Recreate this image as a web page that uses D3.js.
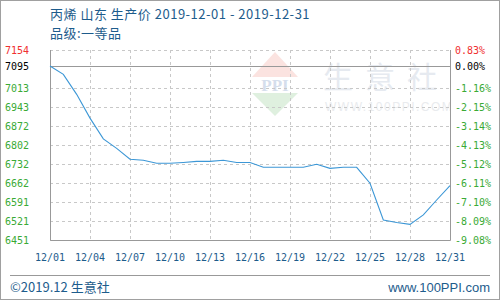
<!DOCTYPE html>
<html><head><meta charset="utf-8">
<script src="https://cdn.jsdelivr.net/npm/d3@7"></script>
<style>body{margin:0;background:#fff}svg{display:block}</style>
</head><body><svg id="c" width="500" height="300"></svg>
<script>
const dates = ["12/01","12/02","12/03","12/04","12/05","12/06","12/07","12/08","12/09","12/10","12/11","12/12","12/13","12/14","12/15","12/16","12/17","12/18","12/19","12/20","12/21","12/22","12/23","12/24","12/25","12/26","12/27","12/28","12/29","12/30","12/31"];
const prices = [7095,7064,6990,6902,6825,6790,6750,6746,6735,6735,6738,6742,6742,6746,6738,6738,6720,6720,6720,6720,6731,6716,6720,6720,6661,6525,6516,6509,6544,6599,6652];
const xTickLabels = ["12/01","12/04","12/07","12/10","12/13","12/16","12/19","12/22","12/25","12/28","12/31"];
const leftTicks = [7154,7095,7013,6943,6872,6802,6732,6662,6591,6521,6451];
const rightTicks = ["0.83%","0.00%","-1.16%","-2.15%","-3.14%","-4.13%","-5.12%","-6.11%","-7.10%","-8.09%","-9.08%"];
const baseValue = 7095;
const title1 = "丙烯 山东 生产价 2019-12-01 - 2019-12-31";
const title2 = "品级:一等品";

const svg = d3.select("#c");
const L=50,R=450,T=50,B=240;
const x = d3.scalePoint().domain(dates).range([L,R]);
const y = d3.scaleLinear().domain([6451,7154]).range([B,T]);
const blue = "#1d5c8c";

svg.append("rect").attr("x",0.5).attr("y",0.5).attr("width",499).attr("height",299).attr("fill","#fff").attr("stroke","#a0a0a0");
svg.append("defs").append("clipPath").attr("id","pc").append("rect").attr("x",L).attr("y",T).attr("width",R-L).attr("height",B-T);

// watermark
const wm = svg.append("g").attr("clip-path","url(#pc)");
wm.append("path").attr("d","M275,52 L298,77 L252,77 Z").attr("fill","#fbe3e0");
wm.append("path").attr("d","M252,93 L298,93 L275,116 Z").attr("fill","#dff0df");
wm.append("text").attr("x",275).attr("y",91).attr("text-anchor","middle").attr("font-family","Liberation Serif").attr("font-weight","bold").attr("font-size",17).attr("fill","#d5deec").text("PPI");
wm.append("text").attr("x",323).attr("y",88).attr("font-family","Noto Sans CJK SC").attr("font-size",30).attr("letter-spacing",12).attr("fill","#e6eaf0").text("生意社");
wm.append("text").attr("x",325).attr("y",111).attr("font-family","Liberation Sans").attr("font-size",12).attr("letter-spacing",1.5).attr("fill","#e9ebee").text("WWW.100PPI.COM");

// grid
const g = svg.append("g");
leftTicks.forEach((v,i)=>{
  if(i===1) return;
  g.append("line").attr("x1",L).attr("x2",R).attr("y1",Math.round(y(v))+0.5).attr("y2",Math.round(y(v))+0.5)
   .attr("stroke","#c8c8c8").attr("stroke-dasharray","3,3");
});
xTickLabels.forEach(d=>{
  g.append("line").attr("x1",Math.round(x(d))+0.5).attr("x2",Math.round(x(d))+0.5).attr("y1",T).attr("y2",B)
   .attr("stroke","#c8c8c8").attr("stroke-dasharray","3,3");
});
g.append("line").attr("x1",L).attr("x2",R).attr("y1",Math.round(y(baseValue))+0.5).attr("y2",Math.round(y(baseValue))+0.5).attr("stroke","#999");
// frame
g.append("path").attr("d",`M${L+0.5},${T} V${B+0.5} H${R+0.5} V${T}`).attr("fill","none").attr("stroke","#999");

// line
svg.append("path").datum(prices).attr("fill","none").attr("stroke","#3c97d6").attr("stroke-width",1.1)
  .attr("d",d3.line().x((d,i)=>x(dates[i])).y(d=>y(d)));

// axis labels
const mono = "DejaVu Sans Mono";
leftTicks.forEach((v,i)=>{
  svg.append("text").attr("x",5).attr("y",y(v)+4).attr("font-family",mono).attr("font-size",10)
    .attr("fill", i===0?"#f03030":(i===1?"#000":"#3aaa35")).text(v);
});
rightTicks.forEach((t,i)=>{
  svg.append("text").attr("x",455).attr("y",y(leftTicks[i])+4).attr("font-family",mono).attr("font-size",10)
    .attr("fill", i===0?"#f03030":(i===1?"#000":"#3aaa35")).text(t);
});
xTickLabels.forEach(d=>{
  svg.append("text").attr("x",x(d)).attr("y",261).attr("text-anchor","middle").attr("font-family",mono).attr("font-size",10)
    .attr("fill",blue).text(d);
});

// titles
svg.append("text").attr("x",50).attr("y",19).attr("font-family","Noto Sans CJK SC").attr("font-size",13).attr("letter-spacing",0.5).attr("fill",blue).text(title1);
svg.append("text").attr("x",50).attr("y",38).attr("font-family","Noto Sans CJK SC").attr("font-size",13).attr("letter-spacing",0.5).attr("fill",blue).text(title2);

// footer
svg.append("line").attr("x1",10).attr("x2",490).attr("y1",275.5).attr("y2",275.5).attr("stroke","#999");
svg.append("text").attr("x",10).attr("y",292).attr("font-family","Noto Sans CJK SC").attr("font-size",13).attr("fill",blue).text("©2019.12 生意社");
svg.append("text").attr("x",490).attr("y",292).attr("text-anchor","end").attr("font-family","Liberation Sans").attr("font-size",13).attr("fill",blue).text("www.100PPI.com");
</script></body></html>
